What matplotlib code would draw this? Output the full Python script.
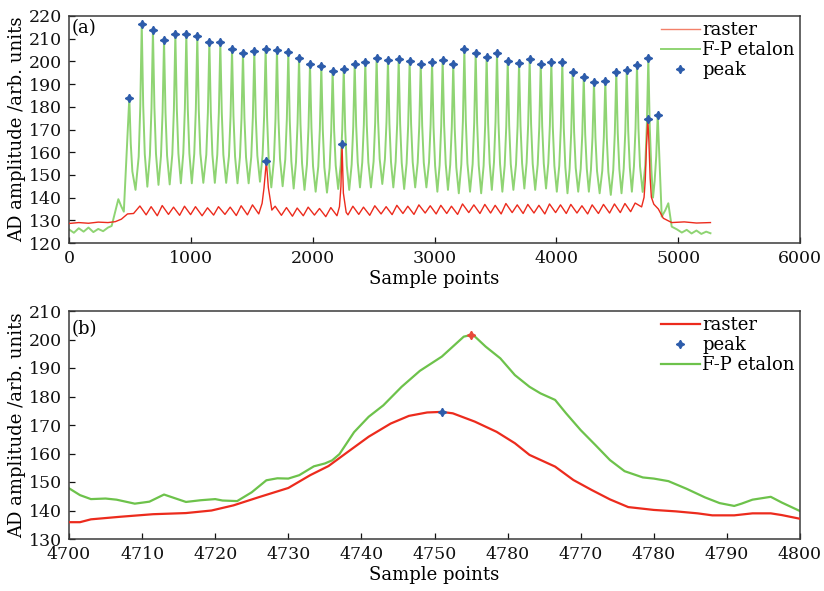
import numpy as np
import matplotlib.pyplot as plt

plt.rcParams['font.family'] = 'DejaVu Serif'
plt.rcParams['font.size'] = 13

# ---- panel (a): full scan ----
# F-P etalon transmission peaks (sample, amplitude)
fp_peak_x = [495, 597, 689, 780, 873, 963, 1053, 1152, 1242, 1338,
             1428, 1521, 1614, 1707, 1800, 1888, 1978, 2071, 2164, 2255,
             2345, 2432, 2525, 2618, 2706, 2796, 2887, 2980, 3067, 3154,
             3245, 3338, 3428, 3513, 3601, 3694, 3781, 3872, 3959, 4049,
             4134, 4225, 4309, 4402, 4492, 4578, 4662, 4755, 4832]
fp_peak_y = [184.0, 216.5, 213.8, 209.3, 211.9, 211.9, 211.2, 208.7, 208.4, 205.3,
             203.7, 204.4, 205.6, 205.0, 204.0, 201.5, 198.9, 197.8, 195.9, 196.7,
             199.0, 199.6, 201.5, 200.6, 201.1, 200.2, 198.9, 199.6, 200.5, 199.0,
             205.3, 203.6, 202.1, 203.8, 200.0, 199.4, 200.9, 199.0, 199.6, 199.6,
             195.2, 193.1, 190.9, 191.5, 195.5, 196.1, 198.4, 201.6, 176.4]
# minima between consecutive etalon peaks
fp_trough_y = [143.4, 144.8, 145.6, 145.8, 146.3, 146.3, 146.5, 146.5, 146.5, 146.3,
               146.3, 147.0, 144.5, 145.0, 144.0, 143.4, 142.6, 142.2, 143.8, 143.4,
               144.5, 144.5, 146.0, 144.5, 143.8, 144.5, 144.5, 142.6, 143.4, 141.9,
               142.6, 141.9, 143.4, 142.6, 143.4, 144.0, 143.4, 144.0, 142.6, 141.9,
               142.6, 142.6, 141.9, 141.2, 141.9, 142.6, 142.5, 140.0]
fp_lead_x = [0, 40, 80, 120, 160, 200, 240, 280, 320, 350, 380, 405, 430, 450]
fp_lead_y = [126.0, 124.5, 126.5, 125.0, 126.8, 124.8, 126.2, 125.2, 126.8, 127.5,
             134.0, 139.3, 136.0, 133.8]
fp_tail_x = [4865, 4895, 4919, 4947, 4990, 5030, 5070, 5110, 5150, 5190, 5230, 5265]
fp_tail_y = [131.6, 134.5, 137.5, 127.2, 126.0, 124.6, 125.8, 124.2, 125.5, 124.0, 125.0, 124.3]

# raster signal: ripple maxima / minima per etalon period
raster_hi = [136.3, 136.0, 136.5, 135.8, 136.2, 136.0, 135.5, 136.0, 135.8, 136.4,
             136.8, 137.0, 136.2, 135.6, 135.4, 135.8, 135.2, 135.6, 136.0, 136.2,
             135.8, 136.4, 136.0, 136.6, 136.2, 136.8, 136.4, 136.6, 136.2, 137.2,
             136.8, 137.0, 136.6, 137.4, 136.8, 137.0, 136.6, 137.2, 136.8, 137.0,
             136.4, 136.8, 137.0, 137.2, 137.4, 137.6, 138.0]
raster_lo = [132.4, 132.0, 132.6, 132.2, 132.5, 132.0, 132.3, 132.6, 132.1, 132.4,
             132.8, 133.0, 132.2, 131.8, 132.0, 132.3, 131.6, 132.0, 132.4, 132.6,
             132.2, 132.8, 132.5, 133.0, 132.6, 133.2, 132.8, 133.0, 132.6, 133.4,
             133.0, 133.2, 132.8, 133.4, 133.0, 133.2, 132.8, 133.4, 133.0, 133.2,
             132.8, 133.0, 133.2, 133.4, 133.8, 134.0]
raster_lead_x = [0, 80, 160, 240, 320, 380, 430, 480, 530]
raster_lead_y = [128.6, 129.0, 128.7, 129.2, 129.0, 129.4, 130.5, 132.8, 133.0]
spike1_x = [1585, 1600, 1620, 1636, 1665]
spike1_y = [137.5, 144.0, 156.0, 144.5, 134.5]
spike2_x = [2220, 2232, 2241, 2252, 2275]
spike2_y = [136.0, 145.0, 163.5, 142.0, 133.5]
raster_tail_x = [4700, 4720, 4730, 4740, 4751, 4760, 4770, 4780, 4800, 4837, 4878,
                 4947, 5050, 5150, 5265]
raster_tail_y = [135.9, 140.1, 147.8, 163.0, 174.6, 164.5, 148.5, 140.2, 137.1, 135.0,
                 130.9, 129.0, 129.3, 128.8, 129.0]
raster_peak_x = [1620, 2241, 4751]
raster_peak_y = [156.0, 163.5, 174.6]

# ---- panel (b): zoom on 4700-4800 ----
zfp_x = [4700, 4701.5, 4703, 4705, 4706.5, 4709, 4711, 4713, 4714.5, 4716,
         4718, 4720, 4721, 4723, 4725, 4727, 4728.5, 4730, 4731.5, 4733.5,
         4735, 4736, 4737, 4739, 4741, 4743, 4745.5, 4748, 4751, 4754,
         4755, 4755.5, 4757, 4759, 4761, 4763, 4764.5, 4766.5, 4768, 4770,
         4772, 4774, 4776, 4778.5, 4780, 4782, 4784.5, 4787, 4789, 4791,
         4792, 4793.5, 4796, 4797.5, 4800]
zfp_y = [147.8, 145.4, 144.0, 144.2, 143.8, 142.4, 143.1, 145.6, 144.3, 143.0,
         143.6, 144.0, 143.5, 143.3, 146.4, 150.6, 151.3, 151.2, 152.4, 155.5,
         156.5, 157.6, 159.8, 167.5, 172.9, 176.9, 183.4, 189.0, 194.0, 201.0,
         201.6, 201.1, 197.5, 193.4, 187.5, 183.4, 181.1, 178.8, 174.1, 168.2,
         163.0, 157.7, 153.8, 151.6, 151.2, 150.3, 147.6, 144.6, 142.6, 141.6,
         142.4, 143.8, 144.8, 142.8, 139.8]
zr_x = [4700, 4701.5, 4703, 4707, 4711.5, 4716, 4719.5, 4722.5, 4726, 4730,
        4733, 4735.5, 4738, 4741, 4744, 4746.5, 4749, 4751, 4752.5, 4755.5,
        4758.5, 4761, 4763, 4766.5, 4769, 4771.5, 4774, 4776.5, 4780, 4783,
        4786, 4788, 4791, 4793.5, 4796, 4797.5, 4800]
zr_y = [135.9, 135.9, 136.9, 137.8, 138.7, 139.1, 140.0, 141.8, 144.7, 147.9,
        152.4, 155.6, 160.3, 165.9, 170.5, 173.2, 174.4, 174.6, 174.1, 171.2,
        167.6, 163.6, 159.5, 155.4, 150.7, 147.2, 143.9, 141.2, 140.2, 139.7,
        139.0, 138.3, 138.3, 139.0, 139.0, 138.4, 137.1]
zpeak_raster = (4751, 174.6)
zpeak_fp = (4755, 201.6)

xticks_b = [4700, 4710, 4720, 4730, 4740, 4750, 4760, 4770, 4780, 4790, 4800]
xticklabels_b = ['4700', '4710', '4720', '4730', '4740', '4750', '4780', '4770',
                 '4780', '4790', '4800']

RED = '#ec2b1d'
GREEN = '#6dc24b'
GREEN_LIGHT = '#8fd473'
BLUE = '#2d5cab'
STAR = (4, 1, 0)

# etalon line shape around each peak: offsets (samples) and fraction of peak height
shoulder_dx = [12, 25]
shoulder_frac = [0.5, 0.2]

# assemble the etalon trace: lead-in, peaks with shoulders, troughs, tail
fp_x = list(fp_lead_x)
fp_y = list(fp_lead_y)
n = len(fp_peak_x)
for i in range(n):
    p, px = fp_peak_y[i], fp_peak_x[i]
    if i > 0:
        t = fp_trough_y[i - 1]
        for dx, f in sorted(zip(shoulder_dx, shoulder_frac), reverse=True):
            fp_x.append(px - dx)
            fp_y.append(t + f * (p - t))
    fp_x.append(px)
    fp_y.append(p)
    if i < n - 1:
        t = fp_trough_y[i]
        for dx, f in zip(shoulder_dx, shoulder_frac):
            fp_x.append(px + dx)
            fp_y.append(t + f * (p - t))
        fp_x.append((px + fp_peak_x[i + 1]) / 2)
        fp_y.append(t)
fp_x += fp_tail_x
fp_y += fp_tail_y

# assemble the raster trace; ripple points inside the spike windows are dropped
pts = list(zip(raster_lead_x, raster_lead_y))
windows = [(1575, 1675), (2212, 2283), (4690, 1e9)]
ripple = []
for i in range(1, n - 1):
    ripple.append((fp_peak_x[i] - 15, raster_hi[i - 1]))
    if i - 1 < len(raster_lo):
        ripple.append(((fp_peak_x[i] + fp_peak_x[i + 1]) / 2 - 10, raster_lo[i - 1]))
for x, y in ripple:
    if not any(a <= x <= b for a, b in windows):
        pts.append((x, y))
pts += list(zip(spike1_x, spike1_y)) + list(zip(spike2_x, spike2_y))
pts += list(zip(raster_tail_x, raster_tail_y))
pts.sort()
raster_x = [p[0] for p in pts]
raster_y = [p[1] for p in pts]

fig = plt.figure(figsize=(8.24, 5.91), dpi=100)
W, H = 824, 591
ax1 = fig.add_axes([69 / W, 1 - 243 / H, 731 / W, 227 / H])
ax2 = fig.add_axes([69 / W, 1 - 539 / H, 731 / W, 228 / H])

for ax in (ax1, ax2):
    for s in ax.spines.values():
        s.set_color('#3a3a3a')
        s.set_linewidth(1.1)
    ax.tick_params(direction='in', length=4, width=0.9, top=False, right=False,
                   pad=5, labelsize=12.5, colors='#111111')
    ax.set_xlabel('Sample points', labelpad=2)
    ax.set_ylabel('AD amplitude /arb. units', labelpad=2)

# (a)
l_fp, = ax1.plot(fp_x, fp_y, color=GREEN_LIGHT, lw=1.4, label='F-P etalon', zorder=2)
l_r, = ax1.plot(raster_x, raster_y, color=RED, lw=1.0, label='raster', zorder=3)
pk, = ax1.plot(fp_peak_x + raster_peak_x, fp_peak_y + raster_peak_y, ls='none',
               marker=STAR, ms=6, color=BLUE, label='peak', zorder=4)
ax1.set_xlim(0, 6000)
ax1.set_ylim(120, 220)
ax1.set_xticks(range(0, 6001, 1000))
ax1.set_yticks(range(120, 221, 10))
ax1.text(0.004, 0.945, '(a)', transform=ax1.transAxes, va='center', ha='left')
leg1 = ax1.legend(handles=[l_r, l_fp, pk], loc='upper right', frameon=False,
                  handlelength=2.2, handletextpad=0.1, labelspacing=0.1,
                  borderaxespad=0.1, borderpad=0.2)
leg1.get_lines()[0].set_color('#f3806a')

# (b)
b_r, = ax2.plot(zr_x, zr_y, color=RED, lw=1.6, label='raster', zorder=3)
b_fp, = ax2.plot(zfp_x, zfp_y, color=GREEN, lw=1.6, label='F-P etalon', zorder=2)
b_pk, = ax2.plot([zpeak_raster[0]], [zpeak_raster[1]], ls='none', marker=STAR,
                 ms=6, color=BLUE, label='peak', zorder=4)
ax2.plot([zpeak_fp[0]], [zpeak_fp[1]], ls='none', marker=STAR, ms=6,
         color='#e84a3a', zorder=4)
ax2.set_xlim(4700, 4800)
ax2.set_ylim(130, 210)
ax2.set_xticks(xticks_b)
ax2.set_xticklabels(xticklabels_b)
ax2.set_yticks(range(130, 211, 10))
ax2.text(0.004, 0.92, '(b)', transform=ax2.transAxes, va='center', ha='left')
ax2.legend(handles=[b_r, b_pk, b_fp], loc='upper right', frameon=False,
           handlelength=2.2, handletextpad=0.1, labelspacing=0.1,
           borderaxespad=0.1, borderpad=0.2)

fig.savefig('out.png', dpi=100)
